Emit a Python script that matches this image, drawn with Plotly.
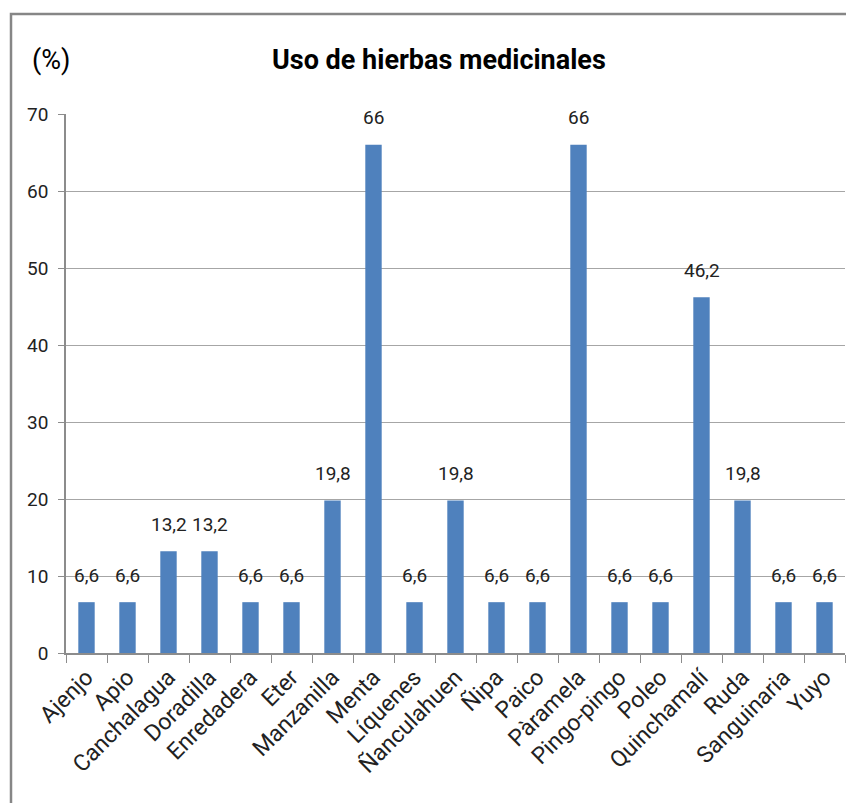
import plotly.graph_objects as go

categories = ["Ajenjo", "Apio", "Canchalagua", "Doradilla", "Enredadera", "Eter",
              "Manzanilla", "Menta", "Líquenes", "Ñanculahuen", "Ñipa", "Paico",
              "Pàramela", "Pingo-pingo", "Poleo", "Quinchamalí", "Ruda",
              "Sanguinaria", "Yuyo"]
values = [6.6, 6.6, 13.2, 13.2, 6.6, 6.6, 19.8, 66, 6.6, 19.8, 6.6, 6.6,
          66, 6.6, 6.6, 46.2, 19.8, 6.6, 6.6]
y_ticks = [0, 10, 20, 30, 40, 50, 60, 70]

FONT = "Roboto, sans-serif"
labels = [("%g" % v).replace(".", ",") for v in values]

fig = go.Figure()
fig.add_trace(go.Bar(x=categories, y=values, marker_color="#4F81BD",
                     marker_line_width=0, width=0.4))

for c, v, t in zip(categories, values, labels):
    fig.add_annotation(x=c, y=v, text=t, showarrow=False, yanchor="middle",
                       xanchor="center", yshift=27,
                       font=dict(family=FONT, size=19, color="#222"))

W, H = 846, 795
L, R, T, B = 58, 9, 106, 150
pw, ph = W - L - R, H - T - B
def px(x): return (x - L) / pw
def py(y): return (H - B - y) / ph

fig.add_shape(type="path", xref="paper", yref="paper",
              path=f"M {px(3)} {py(820)} L {px(3)} {py(6)} L {px(860)} {py(6)}",
              line=dict(color="#868686", width=2.5), layer="above")

fig.add_annotation(xref="paper", yref="paper", x=px(431), y=py(52),
                   xanchor="center", yanchor="middle",
                   text="<b>Uso de hierbas medicinales</b>",
                   showarrow=False, font=dict(family=FONT, size=27, color="#000"))
fig.add_annotation(xref="paper", yref="paper", x=px(43), y=py(52),
                   xanchor="center", yanchor="middle", text="(%)",
                   showarrow=False, font=dict(family=FONT, size=27, color="#000"))

fig.update_layout(
    width=W, height=H, margin=dict(l=L, r=R, t=T, b=B),
    paper_bgcolor="white", plot_bgcolor="white", showlegend=False,
    font=dict(family=FONT, size=18, color="#222"),
)
fig.update_xaxes(type="category", tickangle=-45, tickson="boundaries", ticks="outside",
                 ticklen=8, tickcolor="#8c8c8c", showline=True, linecolor="#8c8c8c",
                 linewidth=1.5, showgrid=False, tickfont=dict(family=FONT, size=23))
fig.update_yaxes(range=[0, 70], tickvals=y_ticks, ticks="outside", ticklen=6,
                 tickcolor="#8c8c8c", showline=True, linecolor="#8c8c8c", linewidth=1.5,
                 showgrid=True, gridcolor="#a6a6a6", gridwidth=1.2, zeroline=False,
                 ticklabelstandoff=6, tickfont=dict(family=FONT, size=19))

fig.write_html("out.html")
